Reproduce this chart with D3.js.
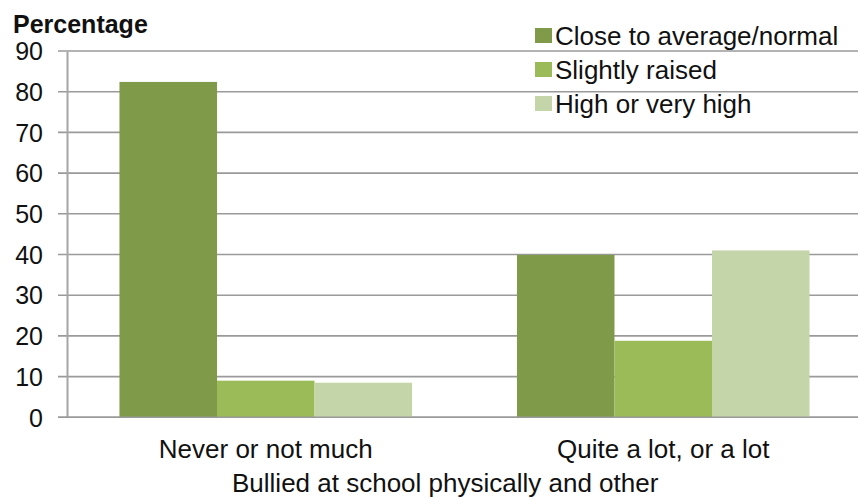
<!DOCTYPE html>
<html>
<head>
<meta charset="utf-8">
<script src="https://cdn.jsdelivr.net/npm/d3@7"></script>
<style>
  html, body { margin: 0; padding: 0; background: #fff; }
  svg { display: block; }
  text { font-family: "Liberation Sans", Arial, sans-serif; fill: #111; }
</style>
</head>
<body>
<svg id="chart" width="858" height="498"></svg>
<script>
const categories = ["Never or not much", "Quite a lot, or a lot"];
const seriesNames = ["Close to average/normal", "Slightly raised", "High or very high"];
const closeToAverage = [82.4, 39.9];
const slightlyRaised = [9.0, 18.8];
const highOrVeryHigh = [8.5, 41.0];
const yTicks = [0, 10, 20, 30, 40, 50, 60, 70, 80, 90];
const colors = ["#7f9a48", "#9bbb59", "#c5d5aa"];
const yTitle = "Percentage";
const xTitle = "Bullied at school physically and other";

(function () {
const seriesValues = [closeToAverage, slightlyRaised, highOrVeryHigh];
const data = categories.map((c, i) => ({
  category: c,
  values: seriesNames.map((s, j) => ({ series: s, value: seriesValues[j][i], idx: j }))
}));

const svg = d3.select("#chart");
const mLeft = 67, mRight = 862, mTop = 51, mBottom = 417.3;

const y = d3.scaleLinear().domain([0, 90]).range([mBottom, mTop]);
const x0 = d3.scaleBand().domain(categories).range([mLeft, mRight])
  .paddingInner(0.264).paddingOuter(0.132);
const x1 = d3.scaleBand().domain(seriesNames).range([0, x0.bandwidth()]).padding(0);

// gridlines
svg.append("g")
  .selectAll("line")
  .data(yTicks)
  .join("line")
  .attr("x1", 58).attr("x2", 858)
  .attr("y1", d => y(d)).attr("y2", d => y(d))
  .attr("stroke", "#9a9a9a").attr("stroke-width", 1.6);

// y axis
const yAxis = svg.append("g")
  .attr("transform", `translate(${mLeft},0)`)
  .call(d3.axisLeft(y).tickValues(yTicks).tickSize(0).tickPadding(24));
yAxis.select(".domain").attr("stroke", "#a6a6a6").attr("stroke-width", 2);
yAxis.selectAll("text")
  .style("font-family", '"Liberation Sans", Arial, sans-serif')
  .style("font-size", "25px").attr("fill", "#111").attr("dy", "0.35em");

// bars
svg.append("g")
  .selectAll("g")
  .data(data)
  .join("g")
  .attr("transform", d => `translate(${x0(d.category)},0)`)
  .selectAll("rect")
  .data(d => d.values)
  .join("rect")
  .attr("x", d => x1(d.series))
  .attr("width", x1.bandwidth())
  .attr("y", d => y(d.value))
  .attr("height", d => y(0) - y(d.value))
  .attr("fill", d => colors[d.idx]);

// x axis baseline
svg.append("line")
  .attr("x1", 58).attr("x2", 858)
  .attr("y1", y(0)).attr("y2", y(0))
  .attr("stroke", "#9a9a9a").attr("stroke-width", 1.6);

// x category labels
svg.append("g")
  .selectAll("text")
  .data(categories)
  .join("text")
  .attr("x", d => x0(d) + x0.bandwidth() / 2)
  .attr("y", 458)
  .attr("text-anchor", "middle")
  .style("font-size", "26px")
  .text(d => d);

// x title
svg.append("text")
  .attr("x", 232).attr("y", 492)
  .style("font-size", "26px")
  .text(xTitle);

// y title
svg.append("text")
  .attr("x", 13).attr("y", 33)
  .style("font-size", "25px").style("font-weight", "bold")
  .text(yTitle);

// legend
const legend = svg.append("g")
  .selectAll("g")
  .data(seriesNames)
  .join("g")
  .attr("transform", (d, i) => `translate(535,${45 + i * 34})`);
legend.append("rect")
  .attr("x", 0).attr("y", -17).attr("width", 17).attr("height", 15)
  .attr("fill", (d, i) => colors[i]);
legend.append("text")
  .attr("x", 20).attr("y", 0)
  .style("font-size", "26px")
  .text(d => d);
})();
</script>
</body>
</html>
